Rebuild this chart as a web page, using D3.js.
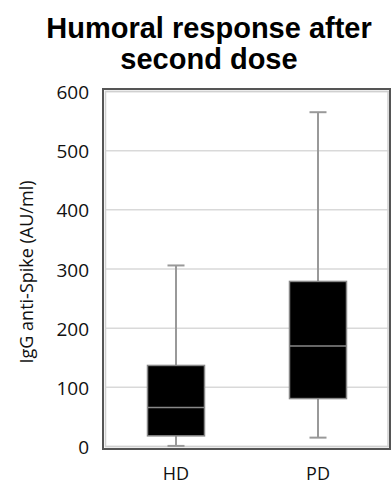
<!DOCTYPE html>
<html>
<head>
<meta charset="utf-8">
<script src="https://cdn.jsdelivr.net/npm/d3@7"></script>
<style>
  body { margin: 0; background: #fff; }
  svg { display: block; }
</style>
</head>
<body>
<div id="vis"></div>
<script>
// Box plot values
const groups = ["HD", "PD"];
const whiskerLow = [1, 15];
const q1 = [18, 81];
const medians = [66, 170];
const q3 = [137, 279];
const whiskerHigh = [306, 565];
const yTicks = [0, 100, 200, 300, 400, 500, 600];

const boxes = groups.map((g, i) => ({
  group: g, lo: whiskerLow[i], q1: q1[i], med: medians[i], q3: q3[i], hi: whiskerHigh[i]
}));

const svg = d3.select("#vis").append("svg")
  .attr("width", 392)
  .attr("height", 487);

const plotL = 105, plotR = 389, plotT = 91.5, plotB = 446.5;

const xScale = d3.scaleBand()
  .domain(groups)
  .range([plotL, plotR]);

const yScale = d3.scaleLinear()
  .domain([0, 600])
  .range([plotB, plotT]);

// Title
svg.append("text")
  .attr("text-anchor", "middle")
  .attr("font-family", "Liberation Sans, Arial, sans-serif")
  .attr("font-weight", "bold")
  .attr("font-size", "29px")
  .selectAll("tspan")
  .data(["Humoral response after", "second dose"])
  .join("tspan")
  .attr("x", 209)
  .attr("y", (d, i) => 38 + i * 31)
  .text(d => d);

// Gridlines
svg.append("g")
  .selectAll("line")
  .data(yTicks)
  .join("line")
  .attr("x1", plotL)
  .attr("x2", plotR)
  .attr("y1", d => yScale(d))
  .attr("y2", d => yScale(d))
  .attr("stroke", "#d9d9d9")
  .attr("stroke-width", 1.5);

// Inner light frame + outer dark frame
svg.append("rect")
  .attr("x", plotL + 0.5)
  .attr("y", plotT)
  .attr("width", plotR - plotL - 1.5)
  .attr("height", plotB - plotT)
  .attr("fill", "none")
  .attr("stroke", "#d0d0d0")
  .attr("stroke-width", 1.5);

svg.append("rect")
  .attr("x", 103)
  .attr("y", 89)
  .attr("width", 287)
  .attr("height", 360)
  .attr("fill", "none")
  .attr("stroke", "#555")
  .attr("stroke-width", 2);

// Y axis tick labels
const yAxis = svg.append("g")
  .attr("transform", `translate(${plotL - 2},1)`)
  .call(d3.axisLeft(yScale).tickValues(yTicks).tickSize(0).tickPadding(14));
yAxis.select(".domain").remove();
yAxis.selectAll("text")
  .attr("font-family", "Open Sans, sans-serif")
  .attr("font-size", "19px")
  .attr("fill", "#111");

// X axis labels
const xAxis = svg.append("g")
  .attr("transform", `translate(0,${plotB})`)
  .call(d3.axisBottom(xScale).tickSize(0).tickPadding(21));
xAxis.select(".domain").remove();
xAxis.selectAll("text")
  .attr("font-family", "Open Sans, sans-serif")
  .attr("font-size", "18px")
  .attr("fill", "#111");

// Y label
svg.append("text")
  .attr("transform", "rotate(-90)")
  .attr("x", -272)
  .attr("y", 33)
  .attr("text-anchor", "middle")
  .attr("font-family", "Open Sans, sans-serif")
  .attr("font-size", "18px")
  .attr("fill", "#111")
  .text("IgG anti-Spike (AU/ml)");

// Boxes
const boxW = 57, capW = 17;
const bx = svg.append("g")
  .selectAll("g")
  .data(boxes)
  .join("g")
  .attr("transform", d => `translate(${xScale(d.group) + xScale.bandwidth() / 2},0)`);

bx.append("line")
  .attr("y1", d => yScale(d.lo))
  .attr("y2", d => yScale(d.hi))
  .attr("stroke", "#999")
  .attr("stroke-width", 2);

bx.selectAll("line.cap")
  .data(d => [d.lo, d.hi])
  .join("line")
  .attr("class", "cap")
  .attr("x1", -capW / 2)
  .attr("x2", capW / 2)
  .attr("y1", d => yScale(d))
  .attr("y2", d => yScale(d))
  .attr("stroke", "#999")
  .attr("stroke-width", 2);

bx.append("rect")
  .attr("x", -boxW / 2)
  .attr("y", d => yScale(d.q3))
  .attr("width", boxW)
  .attr("height", d => yScale(d.q1) - yScale(d.q3))
  .attr("fill", "#000")
  .attr("stroke", "#888")
  .attr("stroke-width", 1.5);

bx.append("line")
  .attr("x1", -boxW / 2)
  .attr("x2", boxW / 2)
  .attr("y1", d => yScale(d.med))
  .attr("y2", d => yScale(d.med))
  .attr("stroke", "#888")
  .attr("stroke-width", 1.5);
</script>
</body>
</html>
